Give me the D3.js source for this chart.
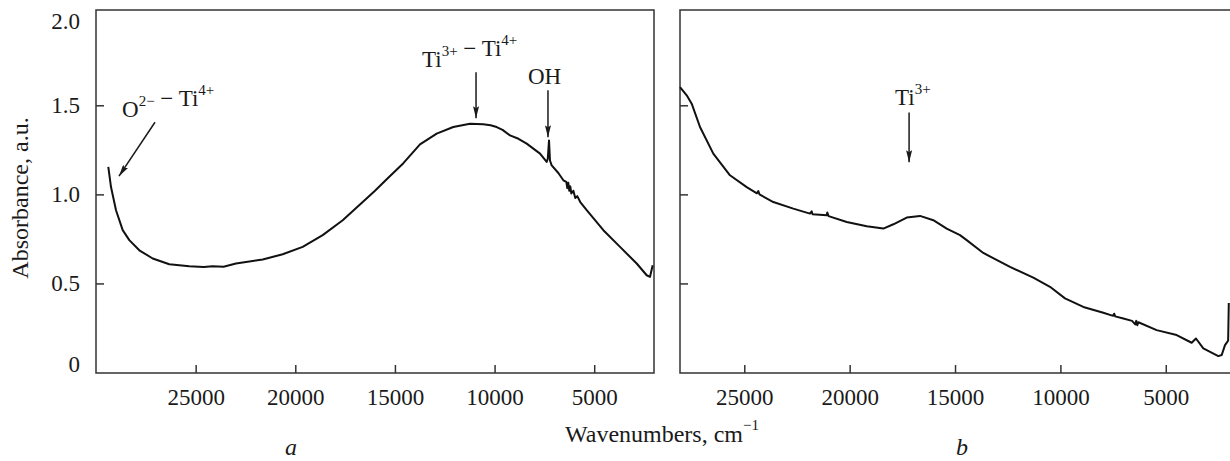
<!DOCTYPE html>
<html lang="en">
<head>
	<meta charset="UTF-8">
	<title>Absorbance spectra</title>
	<script src="https://d3js.org/d3.v7.min.js"></script>
	<style>
		body { margin: 0; background: #fff; }
		text { font-family: "Liberation Serif", "DejaVu Serif", serif; fill: #1a1a1a; }
	</style>
</head>
<body>
	<script type="text/javascript">
		// panel a spectrum
		const waveA = [29383, 29247, 28996, 28660, 28329, 27827, 27155, 26322, 25318, 24600, 24144, 23600,
			22975, 21635, 20631, 19628, 18624, 17620, 16617, 16000, 15413, 14577, 13742, 12905, 12072,
			11235, 10568, 10200, 9894, 9600, 9225, 8800, 8388, 7720, 7385, 7330, 7268, 7220, 7134, 6800,
			6548, 6400, 6350, 6300, 6250, 6200, 6150, 6046, 5950, 5850, 5700, 5377, 4541, 3705, 2868, 2367,
			2199, 2066];
		const absA = [1.154, 1.041, 0.911, 0.799, 0.743, 0.686, 0.640, 0.608, 0.597, 0.592, 0.597, 0.594,
			0.612, 0.634, 0.664, 0.705, 0.771, 0.855, 0.957, 1.020, 1.085, 1.175, 1.281, 1.341, 1.378,
			1.397, 1.393, 1.388, 1.378, 1.362, 1.331, 1.312, 1.285, 1.229, 1.182, 1.200, 1.303, 1.190, 1.163, 1.120,
			1.079, 1.070, 1.035, 1.065, 1.020, 1.045, 1.005, 1.020, 0.980, 0.990, 0.957, 0.911, 0.799, 0.705, 0.612, 0.546,
			0.537, 0.602];

		// panel b spectrum
		const waveB = [28050, 27732, 27495, 27101, 26470, 25678, 24885, 24400, 24334, 24280, 23623, 22674,
			21882, 21803, 21760, 21089, 21060, 21000, 20138, 19189, 18403, 17925, 17293, 16662, 16030,
			15395, 14764, 14446, 13658, 12392, 11285, 10494, 9782, 8912, 7963, 7500, 7450, 7400, 7014,
			6600, 6450, 6400, 6350, 6300, 5433, 4484, 3772, 3567, 3219, 2507, 2346, 2190, 2081, 2040, 2010];
		const absB = [1.602, 1.556, 1.509, 1.378, 1.229, 1.107, 1.041, 1.006, 1.019, 1.000, 0.957, 0.920,
			0.892, 0.905, 0.888, 0.883, 0.898, 0.878, 0.845, 0.821, 0.808, 0.832, 0.870, 0.879, 0.855,
			0.808, 0.771, 0.743, 0.671, 0.593, 0.533, 0.481, 0.416, 0.368, 0.335, 0.318, 0.330, 0.315, 0.303,
			0.290, 0.270, 0.290, 0.265, 0.282, 0.238, 0.210, 0.167, 0.191, 0.135, 0.092, 0.098, 0.154, 0.172, 0.180, 0.390];

		const xTicks = [25000, 20000, 15000, 10000, 5000];
		const yTicks = [0, 0.5, 1.0, 1.5, 2.0];
		const yTickLabels = ["0", "0.5", "1.0", "1.5", "2.0"];

		const width = 1230;
		const height = 461;
		const plotTop = 10;
		const plotBottom = 373;

		const svg = d3.select("body")
			.append("svg")
			.attr("width", width)
			.attr("height", height);

		const yScale = d3.scaleLinear()
			.domain([0, 2.035])
			.range([372.5, plotTop]);

		const xA = d3.scaleLinear().domain([30000, 2000]).range([96, 654]);
		const xB = d3.scaleLinear().domain([28050, 2000]).range([680, 1229]);

		const defs = svg.append("defs");
		defs.append("marker")
			.attr("id", "arrow")
			.attr("viewBox", "0 0 12 6")
			.attr("refX", 12)
			.attr("refY", 3)
			.attr("markerWidth", 12)
			.attr("markerHeight", 6)
			.attr("markerUnits", "userSpaceOnUse")
			.attr("orient", "auto")
			.append("path")
			.attr("d", "M0,0 L12,3 L0,6 L2,3 Z")
			.attr("fill", "#1a1a1a");

		function drawPanel(x, wave, abs, showLabels, rightBorder) {
			const g = svg.append("g");

			// frame
			const x0 = x.range()[0], x1 = x.range()[1];
			g.append("path")
				.attr("d", rightBorder
					? `M${x0},${plotBottom} L${x0},${plotTop} L${x1},${plotTop} L${x1},${plotBottom} Z`
					: `M${x1 + 2},${plotBottom} L${x0},${plotBottom} L${x0},${plotTop} L${x1 + 2},${plotTop}`)
				.attr("fill", "none")
				.attr("stroke", "#333")
				.attr("stroke-width", 1.5);

			const xAxis = g.append("g")
				.attr("transform", `translate(0,${plotBottom})`)
				.call(d3.axisBottom(x).tickValues(xTicks).tickSize(-8).tickPadding(16).tickFormat(d3.format("d")));
			xAxis.select(".domain").remove();
			xAxis.selectAll("line").attr("stroke", "#333").attr("stroke-width", 1.5);
			xAxis.selectAll("text").attr("font-size", "23px").attr("fill", "#1a1a1a");

			const yAxis = g.append("g")
				.attr("transform", `translate(${x0},0)`)
				.call(d3.axisLeft(yScale).tickValues(yTicks).tickSize(-8).tickPadding(16)
					.tickFormat((d, i) => showLabels ? yTickLabels[i] : ""));
			yAxis.select(".domain").remove();
			yAxis.selectAll("line").attr("stroke", "#333").attr("stroke-width", 1.5)
				.attr("opacity", (d) => (d === 0 || d === 2) ? 0 : 1);
			yAxis.selectAll("text").attr("font-size", "23px").attr("fill", "#1a1a1a")
				.attr("dy", (d) => d === 0 ? "-0.05em" : d === 2 ? "0.55em" : "0.32em");

			const line = d3.line()
				.x((d, i) => x(wave[i]))
				.y((d) => yScale(d));

			g.append("path")
				.datum(abs)
				.attr("d", line)
				.attr("fill", "none")
				.attr("stroke", "#111")
				.attr("stroke-width", 2)
				.attr("stroke-linejoin", "round");

			return g;
		}

		drawPanel(xA, waveA, absA, true, true);
		drawPanel(xB, waveB, absB, false, false);

		// annotations: arrows (wavenumber, absorbance)
		const arrows = [
			{ x: xA, from: [27040, 1.405], to: [28846, 1.102] },
			{ x: xA, from: [10930, 1.685], to: [10930, 1.427] },
			{ x: xA, from: [7320, 1.584], to: [7320, 1.320] },
			{ x: xB, from: [17180, 1.460], to: [17180, 1.180] }
		];

		arrows.forEach((a) => {
			svg.append("line")
				.attr("x1", a.x(a.from[0]))
				.attr("y1", yScale(a.from[1]))
				.attr("x2", a.x(a.to[0]))
				.attr("y2", yScale(a.to[1]))
				.attr("stroke", "#1a1a1a")
				.attr("stroke-width", 1.5)
				.attr("marker-end", "url(#arrow)");
		});

		function label(px, py, parts) {
			const t = svg.append("text")
				.attr("x", px)
				.attr("y", py)
				.attr("font-size", "23px");
			parts.forEach((p) => {
				if (p.sup) {
					t.append("tspan").attr("font-size", "15px").attr("dy", "-11").text(p.sup);
					t.append("tspan").attr("font-size", "23px").attr("dy", "11").text("");
				} else {
					t.append("tspan").text(p.t);
				}
			});
			return t;
		}

		label(122, 117, [{ t: "O" }, { sup: "2−" }, { t: " − Ti" }, { sup: "4+" }]);
		label(422, 67, [{ t: "Ti" }, { sup: "3+" }, { t: " − Ti" }, { sup: "4+" }]);
		label(528, 84, [{ t: "OH" }]);
		label(895, 105, [{ t: "Ti" }, { sup: "3+" }]);

		// axis titles
		svg.append("text")
			.attr("transform", "translate(28,198) rotate(-90)")
			.attr("text-anchor", "middle")
			.attr("font-size", "24px")
			.text("Absorbance, a.u.");

		const xt = svg.append("text")
			.attr("x", 565)
			.attr("y", 442)
			.attr("font-size", "24px");
		xt.append("tspan").text("Wavenumbers, cm");
		xt.append("tspan").attr("font-size", "15px").attr("dy", "-12").text("−1");

		svg.append("text")
			.attr("x", 291)
			.attr("y", 455)
			.attr("text-anchor", "middle")
			.attr("font-size", "24px")
			.attr("font-style", "italic")
			.text("a");

		svg.append("text")
			.attr("x", 962)
			.attr("y", 455)
			.attr("text-anchor", "middle")
			.attr("font-size", "24px")
			.attr("font-style", "italic")
			.text("b");
	</script>
</body>
</html>
